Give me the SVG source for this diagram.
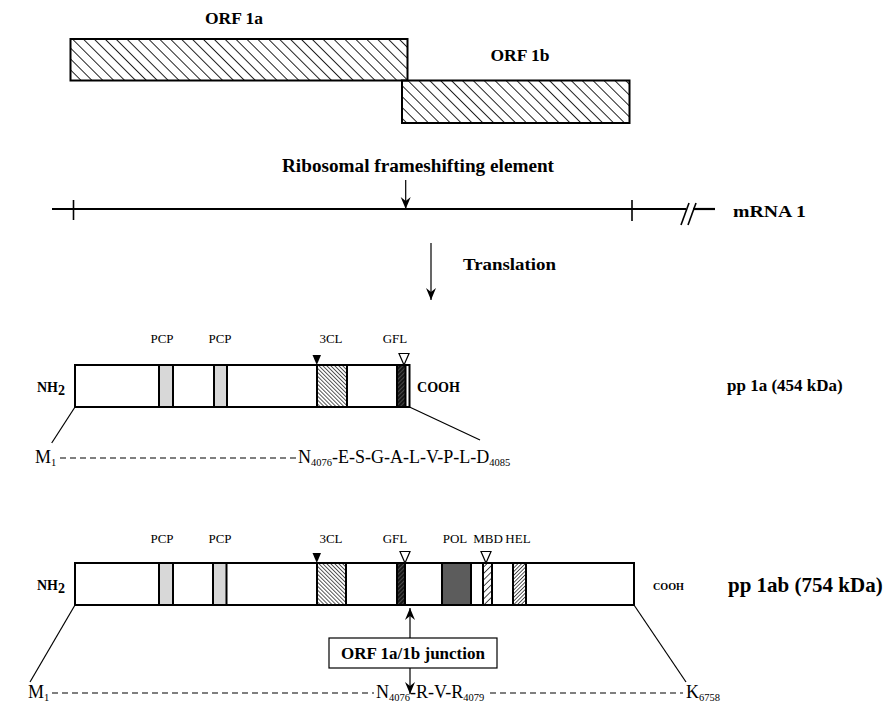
<svg xmlns="http://www.w3.org/2000/svg" width="886" height="711" viewBox="0 0 886 711">
<defs>
  <pattern id="hatchORF" patternUnits="userSpaceOnUse" width="7.7" height="7.7" patternTransform="rotate(-45)">
    <line x1="0" y1="0" x2="0" y2="7.7" stroke="#000" stroke-width="1.7"/>
  </pattern>
  <pattern id="hatch3CL" patternUnits="userSpaceOnUse" width="2.8" height="2.8" patternTransform="rotate(-45)">
    <line x1="0" y1="0" x2="0" y2="2.8" stroke="#000" stroke-width="1.3"/>
  </pattern>
  <pattern id="hatchGFL" patternUnits="userSpaceOnUse" width="3" height="3" patternTransform="rotate(45)">
    <rect x="0" y="0" width="3" height="3" fill="#151515"/>
    <line x1="0" y1="0" x2="0" y2="3" stroke="#bbb" stroke-width="0.6"/>
  </pattern>
  <pattern id="hatchMBD" patternUnits="userSpaceOnUse" width="4.5" height="4.5" patternTransform="rotate(45)">
    <line x1="0" y1="0" x2="0" y2="4.5" stroke="#000" stroke-width="1.4"/>
  </pattern>
  <pattern id="hatchHEL" patternUnits="userSpaceOnUse" width="2.6" height="2.6" patternTransform="rotate(45)">
    <line x1="0" y1="0" x2="0" y2="2.6" stroke="#000" stroke-width="1.3"/>
  </pattern>
  <marker id="arrow" viewBox="-12 -6 13 12" refX="0" refY="0" markerWidth="13" markerHeight="12" markerUnits="userSpaceOnUse" orient="auto">
    <path d="M0,0 L-12,-5 L-8,0 L-12,5 Z" fill="#000"/>
  </marker>
</defs>
<style>
  text { font-family: "Liberation Serif", "Times New Roman", serif; fill: #000; }
  .bold { font-weight: bold; }
  .lbl { font-size: 13px; }
  .seq { font-size: 18px; }
  .sub { font-size: 10.5px; }
  .box { stroke: #000; stroke-width: 2; }
  .thin { stroke: #000; stroke-width: 1.2; fill: none; }
  .dash { stroke: #000; stroke-width: 1.2; stroke-dasharray: 6 4; fill: none; }
  .bar { fill: #fff; stroke: #000; stroke-width: 2; }
  .pcp { fill: #d8d8d8; stroke: #000; stroke-width: 2; }
  .pol { fill: #5c5c5c; stroke: #000; stroke-width: 2; }
</style>

<g id="orf1a">
  <rect x="70.5" y="39" width="337" height="41.5" fill="url(#hatchORF)" class="box"/>
  <text x="234" y="24" text-anchor="middle" class="bold" font-size="17.5">ORF 1a</text>
</g>
<g id="orf1b">
  <rect x="402" y="80.5" width="227.5" height="42.5" fill="url(#hatchORF)" class="box"/>
  <text x="520" y="61" text-anchor="middle" class="bold" font-size="17.5">ORF 1b</text>
</g>

<g id="mrna">
  <line x1="52" y1="209" x2="686" y2="209" stroke="#000" stroke-width="2.2"/>
  <line x1="693" y1="209" x2="715" y2="209" stroke="#000" stroke-width="2.2"/>
  <line x1="73.5" y1="200" x2="73.5" y2="220" stroke="#000" stroke-width="1.6"/>
  <line x1="632" y1="200" x2="632" y2="221" stroke="#000" stroke-width="1.6"/>
  <line x1="681" y1="225" x2="689" y2="203" stroke="#000" stroke-width="1.6"/>
  <line x1="688" y1="225" x2="696" y2="203" stroke="#000" stroke-width="1.6"/>
  <text x="733" y="217" class="bold" font-size="17" textLength="73" lengthAdjust="spacingAndGlyphs">mRNA 1</text>
  <text x="282" y="172" class="bold" font-size="18" textLength="272" lengthAdjust="spacingAndGlyphs">Ribosomal frameshifting element</text>
  <text x="463" y="270" class="bold" font-size="16.5" textLength="93" lengthAdjust="spacingAndGlyphs">Translation</text>
</g>

<g id="pp1a">
  <rect x="75" y="365" width="334.5" height="42" class="bar"/>
  <rect x="159" y="365" width="14" height="42" class="pcp"/>
  <rect x="214" y="365" width="13" height="42" class="pcp"/>
  <rect x="317" y="365" width="30" height="42" fill="url(#hatch3CL)" class="box"/>
  <rect x="397" y="365" width="8.5" height="42" fill="url(#hatchGFL)" class="box"/>
  <polygon points="312.5,355 321,355 316.8,365" fill="#000"/>
  <polygon points="399,353.5 409,353.5 404,365" fill="#fff" stroke="#000" stroke-width="1.2"/>
  <text x="162" y="343" text-anchor="middle" class="lbl">PCP</text>
  <text x="220" y="343" text-anchor="middle" class="lbl">PCP</text>
  <text x="331" y="343" text-anchor="middle" class="lbl">3CL</text>
  <text x="395" y="343" text-anchor="middle" class="lbl">GFL</text>
  <text x="37" y="392" class="bold" font-size="14">NH<tspan dy="3">2</tspan></text>
  <text x="417" y="392" class="bold" font-size="14" textLength="43" lengthAdjust="spacingAndGlyphs">COOH</text>
  <text x="727" y="391" class="bold" font-size="17">pp 1a (454 kDa)</text>
  <text x="35" y="463" class="seq">M<tspan class="sub" dy="3">1</tspan></text>
  <text x="298" y="463" class="seq">N<tspan class="sub" dy="3">4076</tspan><tspan dy="-3">-E-S-G-A-L-V-P-L-D</tspan><tspan class="sub" dy="3">4085</tspan></text>
</g>

<g id="pp1ab">
  <rect x="75" y="563" width="559" height="42" class="bar"/>
  <rect x="159" y="563" width="14" height="42" class="pcp"/>
  <rect x="213" y="563" width="13.5" height="42" class="pcp"/>
  <rect x="317" y="563" width="29" height="42" fill="url(#hatch3CL)" class="box"/>
  <rect x="397" y="563" width="8" height="42" fill="url(#hatchGFL)" class="box"/>
  <rect x="442" y="563" width="29" height="42" class="pol"/>
  <rect x="483" y="563" width="9" height="42" fill="url(#hatchMBD)" class="box"/>
  <rect x="513" y="563" width="13" height="42" fill="url(#hatchHEL)" class="box"/>
  <polygon points="312.5,553 321,553 316.8,563" fill="#000"/>
  <polygon points="400,551.5 410,551.5 405,563" fill="#fff" stroke="#000" stroke-width="1.2"/>
  <polygon points="481,551.5 491,551.5 486,563" fill="#fff" stroke="#000" stroke-width="1.2"/>
  <text x="162" y="543" text-anchor="middle" class="lbl">PCP</text>
  <text x="220" y="543" text-anchor="middle" class="lbl">PCP</text>
  <text x="331" y="543" text-anchor="middle" class="lbl">3CL</text>
  <text x="395" y="543" text-anchor="middle" class="lbl">GFL</text>
  <text x="455" y="543" text-anchor="middle" class="lbl">POL</text>
  <text x="488" y="543" text-anchor="middle" class="lbl">MBD</text>
  <text x="518" y="543" text-anchor="middle" class="lbl">HEL</text>
  <text x="37" y="590" class="bold" font-size="14">NH<tspan dy="3">2</tspan></text>
  <text x="653" y="590" class="bold" font-size="11" textLength="31" lengthAdjust="spacingAndGlyphs">COOH</text>
  <text x="728" y="592" class="bold" font-size="21">pp 1ab (754 kDa)</text>
  <text x="28" y="698" class="seq">M<tspan class="sub" dy="3">1</tspan></text>
  <text x="376" y="698" class="seq">N<tspan class="sub" dy="3">4076</tspan><tspan dy="-3">-R-V-R</tspan><tspan class="sub" dy="3">4079</tspan></text>
  <text x="686" y="698" class="seq">K<tspan class="sub" dy="3">6758</tspan></text>
</g>

<g id="junction">
  <rect x="329" y="638" width="168" height="30" fill="#fff" stroke="#000" stroke-width="1.2"/>
  <text x="413" y="659" text-anchor="middle" class="bold" font-size="17">ORF 1a/1b junction</text>
</g>

<g id="connectors">
  <line x1="405.7" y1="180" x2="405.7" y2="209" class="thin" marker-end="url(#arrow)"/>
  <line x1="431" y1="243" x2="431" y2="300" class="thin" stroke-width="1" marker-end="url(#arrow)"/>
  <line x1="75" y1="407" x2="51.7" y2="443" class="thin"/>
  <line x1="409.5" y1="407" x2="480" y2="440" class="thin"/>
  <line x1="60" y1="458" x2="296" y2="458" class="dash"/>
  <line x1="75" y1="605" x2="30" y2="682" class="thin"/>
  <line x1="634" y1="605" x2="686" y2="682" class="thin"/>
  <line x1="52" y1="693" x2="374" y2="693" class="dash"/>
  <line x1="490" y1="693" x2="683" y2="693" class="dash"/>
  <line x1="410" y1="638" x2="410" y2="608" class="thin" stroke-width="1" marker-end="url(#arrow)"/>
  <line x1="410" y1="668" x2="410" y2="694" class="thin" stroke-width="1" marker-end="url(#arrow)"/>
</g>
</svg>
